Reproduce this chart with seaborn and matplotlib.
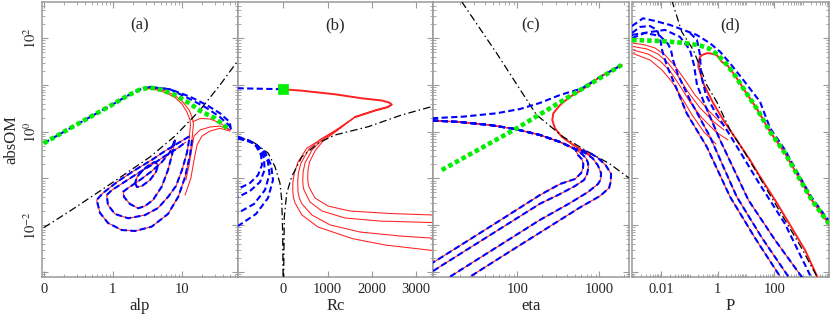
import numpy as np
import pandas as pd
import seaborn as sns
import matplotlib
matplotlib.use("Agg")
import matplotlib.pyplot as plt
from matplotlib.ticker import LogLocator, NullFormatter

# -----------------------------
# Data
# -----------------------------
# panel (a): absOM vs alp
a_dashdot = [(0.1, 0.0088), (0.24, 0.020), (0.655, 0.0537), (1.51, 0.124), (3.47, 0.287),
             (8.0, 0.809), (18.5, 2.92), (35.9, 10.0), (63.2, 31.1)]
a_green = [(0.1, 0.565), (0.218, 1.087), (0.469, 2.06), (0.914, 3.55), (1.61, 5.81), (2.49, 8.01),
           (3.47, 8.84), (5.13, 7.82), (8.0, 6.11), (12.5, 4.18), (19.5, 2.68), (30.4, 1.94), (47.3, 1.14)]
a_blue_top = [(0.1, 0.565), (0.218, 1.087), (0.469, 2.06), (0.914, 3.55), (1.61, 5.81), (2.49, 8.01),
              (3.47, 9.06), (6.77, 8.09), (13.2, 5.62), (23.0, 3.73), (35.9, 2.48), (49.7, 1.61), (51.8, 1.09)]
a_blue_top2 = [(3.47, 9.06), (6.77, 8.09), (13.2, 5.0), (23.0, 3.22), (35.9, 2.06), (49.7, 1.32), (51.8, 1.09)]
a_red_top1 = [(2.75, 8.84), (4.10, 8.41), (5.73, 7.44), (8.0, 5.96), (10.4, 4.32), (12.8, 2.92), (14.3, 1.97), (14.8, 1.46)]
a_red_top2 = [(2.75, 8.62), (4.10, 8.01), (5.73, 6.91), (8.0, 5.40), (10.1, 3.92), (11.9, 2.64), (13.2, 1.78), (13.4, 1.39)]
a_loop1 = [(14.1, 0.664), (13.2, 0.317), (11.2, 0.107), (8.93, 0.0406), (6.33, 0.0173), (3.67, 0.00925),
           (2.11, 0.00748), (1.35, 0.00785), (0.855, 0.0111), (0.655, 0.0182), (0.586, 0.0345), (0.723, 0.0486),
           (1.205, 0.0879), (2.11, 0.151), (3.67, 0.248), (5.73, 0.386), (8.93, 0.573), (13.2, 0.809)]
a_loop2 = [(12.8, 0.664), (11.9, 0.350), (10.1, 0.151), (8.27, 0.0688), (6.39, 0.0406), (4.54, 0.0232),
           (2.94, 0.0164), (1.68, 0.0140), (1.08, 0.0173), (0.855, 0.0269), (0.819, 0.0441), (0.977, 0.0565),
           (1.205, 0.0688), (2.11, 0.118), (3.67, 0.194), (5.73, 0.302), (8.84, 0.448), (11.5, 0.602)]
a_loop3 = [(8.0, 0.664), (7.23, 0.317), (6.33, 0.151), (5.13, 0.0664), (3.84, 0.0345), (2.94, 0.0256),
           (2.35, 0.0229), (1.78, 0.0283), (1.46, 0.0400), (1.42, 0.0519), (1.67, 0.0622), (2.49, 0.0924),
           (3.71, 0.144), (5.18, 0.225), (6.77, 0.367), (8.0, 0.664)]
a_loop4 = [(2.11, 0.0796), (2.25, 0.0654), (2.66, 0.0688), (3.47, 0.0924), (4.24, 0.137), (4.54, 0.194),
           (4.10, 0.225), (3.47, 0.203), (2.75, 0.151), (2.25, 0.107), (2.11, 0.0796)]
a_red_e1 = [(14.6, 1.64), (18.5, 1.92), (25.7, 1.87), (35.9, 1.54), (50.2, 1.09)]
a_red_e2 = [(50.2, 1.09), (35.9, 1.32), (25.7, 1.26), (18.5, 1.09), (15.1, 0.809), (13.9, 0.406), (12.8, 0.194), (11.5, 0.0924)]
a_red_e3 = [(50.2, 1.03), (35.9, 1.18), (25.7, 1.03), (19.7, 0.809), (16.7, 0.519), (15.1, 0.248), (13.6, 0.102), (11.2, 0.0441)]

# panel (b): absOM vs Rc
b_dashdot = [(-1018, 0.781), (-640, 0.565), (-339, 0.345), (-188, 0.178), (-75, 0.0785), (-36, 0.0345),
             (-14, 0.00667), (-4.5, 0.0006), (7, 0.0006), (22.6, 0.0151), (77, 0.048), (190, 0.109),
             (416, 0.287), (792, 0.573), (1169, 0.85), (1923, 1.28), (2678, 2.28), (3409, 3.55)]
b_blue_top = [(-1036, 8.5), (-500, 8.3), (0, 8.1)]
b_square = [(0, 8.1)]
b_red_top = [(0, 8.09), (416, 7.55), (1169, 6.32), (1773, 5.19), (2226, 4.66), (2391, 4.22),
             (2452, 3.82), (2368, 3.38), (2074, 2.84), (1622, 2.06)]
b_red_1 = [(1192, 1.09), (830, 0.664), (536, 0.448), (333, 0.225), (250, 0.13), (218, 0.085), (213, 0.0565),
           (228, 0.04), (265, 0.0297), (423, 0.0164), (785, 0.0091), (1554, 0.00516), (2300, 0.00375), (3420, 0.00283)]
b_red_2 = [(1192, 1.06), (853, 0.698), (581, 0.426), (400, 0.214), (340, 0.13), (326, 0.085), (333, 0.0511),
           (365, 0.037), (423, 0.0283), (649, 0.0164), (1056, 0.0101), (1735, 0.00711), (2640, 0.00584), (3420, 0.00522)]
b_red_3 = [(1192, 1.03), (875, 0.664), (649, 0.406), (491, 0.214), (450, 0.14), (439, 0.09), (450, 0.066),
           (468, 0.0565), (604, 0.0312), (875, 0.0200), (1396, 0.0142), (2187, 0.0122), (3420, 0.0113)]
b_red_4 = [(1192, 1.01), (898, 0.632), (717, 0.386), (593, 0.225), (558, 0.15), (552, 0.1), (565, 0.075),
           (581, 0.0654), (717, 0.0380), (1011, 0.0256), (1509, 0.0200), (2414, 0.0177), (3420, 0.0164)]
b_blue_1 = [(-1025, 0.770), (-798, 0.664), (-618, 0.494), (-504, 0.317), (-482, 0.194), (-572, 0.118), (-753, 0.0796), (-1025, 0.0593)]
b_blue_2 = [(-1025, 0.751), (-753, 0.632), (-550, 0.448), (-437, 0.273), (-425, 0.151), (-527, 0.0837), (-753, 0.0537), (-1025, 0.0400)]
b_blue_3 = [(-1025, 0.733), (-708, 0.602), (-482, 0.406), (-346, 0.225), (-312, 0.124), (-414, 0.0565), (-663, 0.0283), (-1025, 0.0182)]
b_blue_4 = [(-1025, 0.715), (-663, 0.573), (-414, 0.367), (-278, 0.194), (-233, 0.0924), (-346, 0.0380), (-618, 0.0173), (-1025, 0.00957)]

# panel (c): absOM vs eta
c_dashdot = [(21.0, 608), (56.1, 47.7), (143, 3.73), (172, 2.28), (364, 0.771), (701, 0.386), (1350, 0.203), (2301, 0.102)]
c_green = [(12.0, 0.151), (98.3, 1.18), (1875, 26.8)]
c_blue_up = [(9.12, 1.94), (21.9, 2.10), (56.1, 2.48), (108, 3.06), (189, 4.13), (332, 6.11), (610, 8.41), (1020, 14.9), (1875, 26.8)]
c_red_thick = [(1875, 26.8), (1020, 14.9), (610, 7.82), (440, 5.61), (332, 3.73), (275, 2.48), (267, 1.78),
               (288, 1.18), (348, 0.781), (482, 0.519), (610, 0.406), (770, 0.317)]
c_band = [(9.12, 1.74), (20.0, 1.61), (46.4, 1.39), (93.7, 1.14), (189, 0.850), (332, 0.601), (506, 0.426)]
c_tail1 = [(550, 0.317), (610, 0.26), (638, 0.205), (632, 0.165), (600, 0.13), (506, 0.0971), (332, 0.0759),
           (189, 0.0441), (61.5, 0.0126), (11.4, 0.00195), (9.12, 0.00154)]
c_tail2 = [(615, 0.333), (690, 0.27), (728, 0.214), (735, 0.17), (710, 0.125), (651, 0.0924), (506, 0.0688),
           (332, 0.0463), (189, 0.0287), (61.5, 0.00830), (11.4, 0.00129), (9.12, 0.00100)]
c_tail3 = [(670, 0.350), (830, 0.27), (960, 0.19), (1050, 0.13), (1040, 0.095), (964, 0.0759), (728, 0.0511),
           (440, 0.0297), (189, 0.0129), (61.5, 0.00372), (15.1, 0.000785)]
c_tail4 = [(728, 0.368), (950, 0.28), (1200, 0.19), (1390, 0.125), (1380, 0.085), (1314, 0.0622), (1020, 0.0420),
           (582, 0.0239), (189, 0.00691), (61.5, 0.00200), (26.5, 0.000785)]

# panel (d): absOM vs P
d_green = [(0.000929, 92.0), (0.00908, 87.6), (0.0693, 79.3), (0.235, 70.1), (0.530, 59.0), (1.02, 43.9), (2.29, 25.5),
           (4.40, 14.8), (9.14, 7.44), (24.3, 3.06), (70.0, 1.0), (237, 0.345), (700, 0.109), (2080, 0.0345), (8490, 0.0106)]
d_blue_top = [(0.000929, 183), (0.00228, 268), (0.00604, 235), (0.0205, 193), (0.0604, 151), (0.180, 118), (0.530, 78.2),
              (1.20, 51.6), (2.70, 29.2), (7.96, 12.8), (31.0, 4.39), (70.0, 1.2), (237, 0.406), (700, 0.124), (2080, 0.039), (8490, 0.0122)]
d_red_thick = [(8490, 0.0106), (2080, 0.0345), (700, 0.109), (237, 0.345), (70.0, 1.0), (24.3, 3.06), (9.14, 7.44),
               (4.40, 14.8), (2.29, 25.5), (1.41, 31.1), (0.914, 43.9), (0.530, 47.7), (0.406, 47.7), (0.277, 43.9),
               (0.235, 39.8), (0.208, 31.1), (0.205, 24.6), (0.235, 19.3), (0.307, 10.9), (0.451, 6.74), (0.693, 4.06),
               (1.56, 1.78), (4.65, 0.664), (13.7, 0.248), (31.0, 0.109), (105, 0.0345), (356, 0.0101), (1205, 0.00293), (3560, 0.0007)]
d_dashdot = [(0.0235, 661), (0.053, 138), (0.136, 56.1), (0.235, 24.6), (0.406, 10.0), (0.914, 4.39), (2.70, 1.09),
             (9.14, 0.350), (31.0, 0.102), (158, 0.0192), (803, 0.0037), (3560, 0.0007)]
d_blue_1 = [(0.000929, 130), (0.00178, 175), (0.00402, 183), (0.00711, 151), (0.00908, 101), (0.0107, 56.1), (0.0160, 25.5),
            (0.0308, 10.0), (0.0796, 2.48), (0.406, 0.477), (2.70, 0.0406), (20.6, 0.00530), (181, 0.0007)]
d_blue_2 = [(0.000929, 101), (0.00268, 130), (0.00908, 112), (0.0174, 75.5), (0.0222, 56.1), (0.0261, 34.3), (0.0393, 16.4),
            (0.104, 4.77), (0.530, 0.781), (4.65, 0.0406), (36.5, 0.00530), (356, 0.0007)]
d_blue_3 = [(0.000929, 118), (0.00402, 136), (0.0136, 151), (0.0462, 107), (0.104, 56.1), (0.144, 26.8), (0.184, 10.0),
            (0.353, 3.73), (1.20, 0.664), (12.0, 0.0345), (105, 0.00480), (1050, 0.0007)]
d_blue_4 = [(0.104, 130), (0.184, 92.0), (0.235, 43.9), (0.255, 16.4), (0.383, 6.11), (0.796, 2.64), (2.29, 0.985),
            (7.16, 0.317), (27.0, 0.0837), (237, 0.0106), (2130, 0.0007)]
d_red_thin_1 = [(0.00101, 79.3), (0.00268, 71.9), (0.00604, 62.0), (0.0136, 43.9), (0.0308, 25.5), (0.0693, 12.8), (0.156, 6.11), (0.530, 2.64), (1.41, 1.46)]
d_red_thin_2 = [(0.00101, 66.7), (0.00315, 59.0), (0.00771, 46.1), (0.0174, 29.6), (0.0393, 15.6), (0.0885, 7.08), (0.235, 3.22), (0.734, 1.61), (1.66, 1.09)]
d_red_thin_3 = [(0.00101, 56.1), (0.00342, 46.1), (0.00908, 32.7), (0.0205, 19.9), (0.0462, 9.52), (0.104, 4.32), (0.277, 1.97), (0.863, 0.985), (2.29, 0.664)]
d_red_thin_4 = [(0.00101, 47.3), (0.00402, 34.3), (0.0107, 20.9), (0.0241, 11.6), (0.0543, 5.27), (0.123, 2.28), (0.325, 0.985), (0.863, 0.545)]

# -----------------------------
# Style
# -----------------------------
sns.set_theme(style="ticks")
plt.rcParams["font.family"] = ["Liberation Serif", "DejaVu Serif"]
plt.rcParams["mathtext.fontset"] = "stix"

BLUE = "#0000ff"
RED = "#ff2020"
GREEN = "#00ee00"
FRAME = "#999999"

blue_kw = dict(color=BLUE, lw=1.5, linestyle=(0, (3, 1.6)), zorder=4)
red_thin_kw = dict(color=RED, lw=0.75, zorder=2)
red_thick_kw = dict(color=RED, lw=1.4, zorder=3)
dd_kw = dict(color="black", lw=0.9, linestyle=(0, (6, 2.5, 1.2, 2.5)), zorder=3.5)
green_kw = dict(color=GREEN, lw=3.3, linestyle=(0, (1, 0.65)), zorder=5)


def draw(ax, pts, **kw):
    df = pd.DataFrame(pts, columns=["x", "y"])
    sns.lineplot(data=df, x="x", y="y", ax=ax, sort=False, estimator=None,
                 errorbar=None, legend=False, **kw)


fig = plt.figure(figsize=(8.3, 3.15), dpi=100)
bottom, height = 38 / 315, 275 / 315
ax_a = fig.add_axes([42 / 830, bottom, 195.5 / 830, height])
ax_b = fig.add_axes([237.5 / 830, bottom, 195.5 / 830, height])
ax_c = fig.add_axes([433 / 830, bottom, 196 / 830, height])
ax_d = fig.add_axes([632 / 830, bottom, 197 / 830, height])
axes = [ax_a, ax_b, ax_c, ax_d]

for ax in axes:
    ax.set_yscale("log")
ax_a.set_xscale("log")
ax_c.set_xscale("log")
ax_d.set_xscale("log")

# -----------------------------
# Panel (a)
# -----------------------------
for loop in [a_loop3, a_loop4]:
    draw(ax_a, loop, **red_thin_kw)
draw(ax_a, a_red_top1 + a_loop1, **red_thin_kw)
draw(ax_a, a_red_top2 + a_loop2, **red_thin_kw)
for e in [a_red_e1, a_red_e2, a_red_e3]:
    draw(ax_a, e, **red_thin_kw)
for loop in [a_loop1, a_loop2, a_loop3, a_loop4]:
    draw(ax_a, loop, **blue_kw)
draw(ax_a, a_blue_top, **blue_kw)
draw(ax_a, a_blue_top2, **blue_kw)
draw(ax_a, a_dashdot, **dd_kw)
draw(ax_a, a_green, **green_kw)

# -----------------------------
# Panel (b)
# -----------------------------
for r in [b_red_1, b_red_2, b_red_3, b_red_4]:
    draw(ax_b, b_red_top[6:] + r, **red_thin_kw)
draw(ax_b, b_red_top, **red_thick_kw)
for bl in [b_blue_1, b_blue_2, b_blue_3, b_blue_4]:
    draw(ax_b, bl, **blue_kw)
draw(ax_b, b_blue_top, **blue_kw)
draw(ax_b, b_dashdot, **dd_kw)
sq = pd.DataFrame(b_square, columns=["x", "y"])
sns.scatterplot(data=sq, x="x", y="y", ax=ax_b, marker="s", s=42, color=GREEN,
                edgecolor=GREEN, zorder=6, legend=False)

# -----------------------------
# Panel (c)
# -----------------------------
for t in [c_tail1, c_tail2, c_tail3, c_tail4]:
    draw(ax_c, c_band + t, **red_thin_kw)
draw(ax_c, c_red_thick, **red_thick_kw)
for t in [c_tail1, c_tail2, c_tail3, c_tail4]:
    draw(ax_c, c_band + t, **blue_kw)
draw(ax_c, c_blue_up, **blue_kw)
draw(ax_c, c_dashdot, **dd_kw)
draw(ax_c, c_green, **green_kw)

# -----------------------------
# Panel (d)
# -----------------------------
for r in [d_red_thin_1, d_red_thin_2, d_red_thin_3, d_red_thin_4]:
    draw(ax_d, r, **red_thin_kw)
for bl in [d_blue_1, d_blue_2, d_blue_3]:
    draw(ax_d, bl[7:], **red_thin_kw)
draw(ax_d, d_red_thick, **red_thick_kw)
for bl in [d_blue_1, d_blue_2, d_blue_3, d_blue_4]:
    draw(ax_d, bl, **blue_kw)
draw(ax_d, d_blue_top, **blue_kw)
draw(ax_d, d_dashdot, **dd_kw)
draw(ax_d, d_green, **green_kw)

# -----------------------------
# Axes cosmetics
# -----------------------------
ymaj = [1e-3, 1e-2, 1e-1, 1, 10, 100]
for ax, letter in zip(axes, "abcd"):
    ax.set_ylim(7.74e-4, 598)
    ax.yaxis.set_minor_locator(LogLocator(base=10, subs=np.arange(2, 10), numticks=20))
    ax.yaxis.set_minor_formatter(NullFormatter())
    ax.tick_params(which="both", direction="in", top=True, right=True,
                   color=FRAME, labelsize=10.5, pad=4)
    ax.tick_params(which="major", length=4, width=0.8)
    ax.tick_params(which="minor", length=2, width=0.6)
    for sp in ax.spines.values():
        sp.set_color(FRAME)
        sp.set_linewidth(1.1)
    ax.text(0.5, 0.915, "(" + letter + ")", transform=ax.transAxes,
            ha="center", va="center", fontsize=12)
    ax.set_ylabel("")

ax_a.set_yticks(ymaj, ["", r"$10^{-2}$", "", r"$10^{0}$", "", r"$10^{2}$"],
                rotation=90, va="center")
ax_a.tick_params(axis="y", pad=2)
ax_a.set_ylabel("absOM", fontsize=12, labelpad=2)
for ax in [ax_b, ax_c, ax_d]:
    ax.set_yticks(ymaj, [""] * len(ymaj))

ax_a.set_xticks([0.1, 1, 10], ["0", "1", "10"])
ax_a.xaxis.set_minor_locator(LogLocator(base=10, subs=np.arange(2, 10), numticks=20))
ax_a.xaxis.set_minor_formatter(NullFormatter())
ax_a.set_xlim(0.0945, 64.4)

ax_b.set_xticks([0, 1000, 2000, 3000], ["0", "1000", "2000", "3000"])
ax_b.set_xlim(-1036, 3386)

ax_c.set_xticks([100, 1000], ["100", "1000"])
ax_c.xaxis.set_minor_locator(LogLocator(base=10, subs=np.arange(2, 10), numticks=20))
ax_c.xaxis.set_minor_formatter(NullFormatter())
ax_c.set_xlim(9.38, 2301)

ax_d.set_xticks([0.01, 1, 100], ["0.01", "1", "100"])
ax_d.xaxis.set_minor_locator(LogLocator(base=10, subs=np.arange(1, 10), numticks=20))
ax_d.xaxis.set_minor_formatter(NullFormatter())
ax_d.set_xlim(0.000929, 8490)

for ax, lab in zip(axes, ["alp", "Rc", "eta", "P"]):
    ax.set_xlabel(lab, fontsize=12, labelpad=2)

fig.savefig("out.png", dpi=100)
plt.close(fig)
